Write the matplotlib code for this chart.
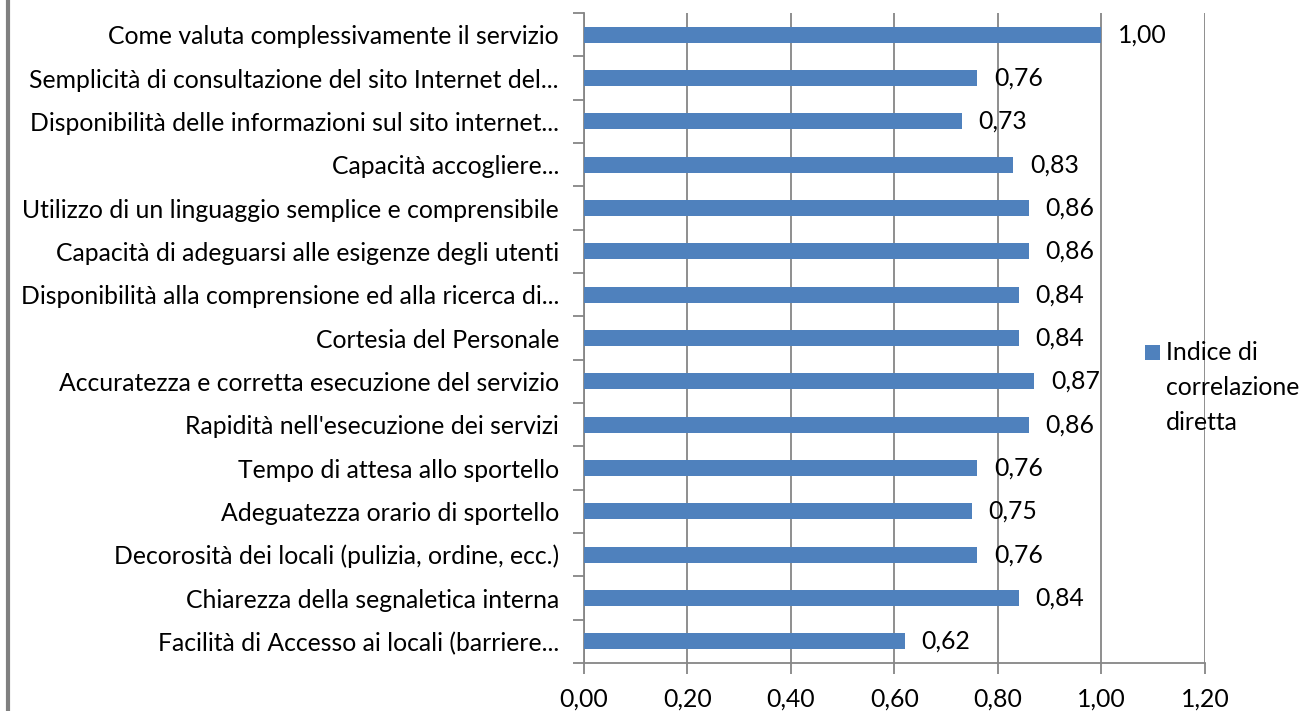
import numpy as np
import matplotlib
matplotlib.use("Agg")
import matplotlib.pyplot as plt
from matplotlib.patches import Rectangle

plt.rcParams['font.family'] = ['Lato', 'DejaVu Sans']

categories = [
    "Come valuta complessivamente il servizio",
    "Semplicità di consultazione del sito Internet del...",
    "Disponibilità delle informazioni sul sito internet...",
    "Capacità accogliere...",
    "Utilizzo di un linguaggio semplice e comprensibile",
    "Capacità di adeguarsi alle esigenze degli utenti",
    "Disponibilità alla comprensione ed alla ricerca di...",
    "Cortesia del Personale",
    "Accuratezza e corretta esecuzione del servizio",
    "Rapidità nell'esecuzione dei servizi",
    "Tempo di attesa allo sportello",
    "Adeguatezza orario di sportello",
    "Decorosità dei locali (pulizia, ordine, ecc.)",
    "Chiarezza della segnaletica interna",
    "Facilità di Accesso ai locali (barriere...",
]
values = [1.00, 0.76, 0.73, 0.83, 0.86, 0.86, 0.84, 0.84, 0.87, 0.86,
          0.76, 0.75, 0.76, 0.84, 0.62]
xticks = [0.0, 0.2, 0.4, 0.6, 0.8, 1.0, 1.2]
series_name = "Indice di\ncorrelazione\ndiretta"

bar_color = "#4F81BD"
grid_color = "#868686"
fs = 17.8

fig = plt.figure(figsize=(13, 7.11), dpi=100)
ax = fig.add_axes([0.4492, 0.0675, 0.4777, 0.9142])

n = len(categories)
y = np.arange(n)[::-1]
ax.barh(y, values, height=0.37, color=bar_color, zorder=3)

for yi, v in zip(y, values):
    ax.text(v + 0.032, yi, f"{v:.2f}".replace(".", ","), va="center", ha="left",
            fontsize=fs, color="black")

ax.set_xlim(0, 1.2)
ax.set_ylim(-0.5, n - 0.5)
ax.set_xticks(xticks)
ax.set_xticklabels([f"{t:.2f}".replace(".", ",") for t in xticks], fontsize=fs)
ax.set_yticks(y)
ax.set_yticklabels(categories, fontsize=fs)
ax.tick_params(axis='y', length=0, pad=18)
ax.set_yticks(np.arange(-0.5, n, 1.0), minor=True)
ax.tick_params(axis='y', which='minor', length=8, color=grid_color, width=1.3)
ax.tick_params(axis='x', length=8, color=grid_color, width=1.3, pad=10)

ax.grid(axis='x', color=grid_color, linewidth=1.3, zorder=0)
for s in ['top', 'right']:
    ax.spines[s].set_visible(False)
for s in ['left', 'bottom']:
    ax.spines[s].set_color(grid_color)
    ax.spines[s].set_linewidth(1.3)

# legend drawn by hand: marker beside the first line of a 3-line label
W, H = 1300, 711
fig.add_artist(Rectangle((1145 / W, (H - 360) / H), 15 / W, 15 / H,
                         facecolor=bar_color, edgecolor='none',
                         transform=fig.transFigure))
fig.text(1166 / W, (H - 341) / H, series_name, ha='left', va='top',
         fontsize=fs, linespacing=1.62)

# left border line of the original frame
fig.add_artist(plt.Line2D([0.0065, 0.0065], [0, 1], color="#808080",
                          linewidth=3, transform=fig.transFigure))

fig.savefig("out.png", dpi=100)
